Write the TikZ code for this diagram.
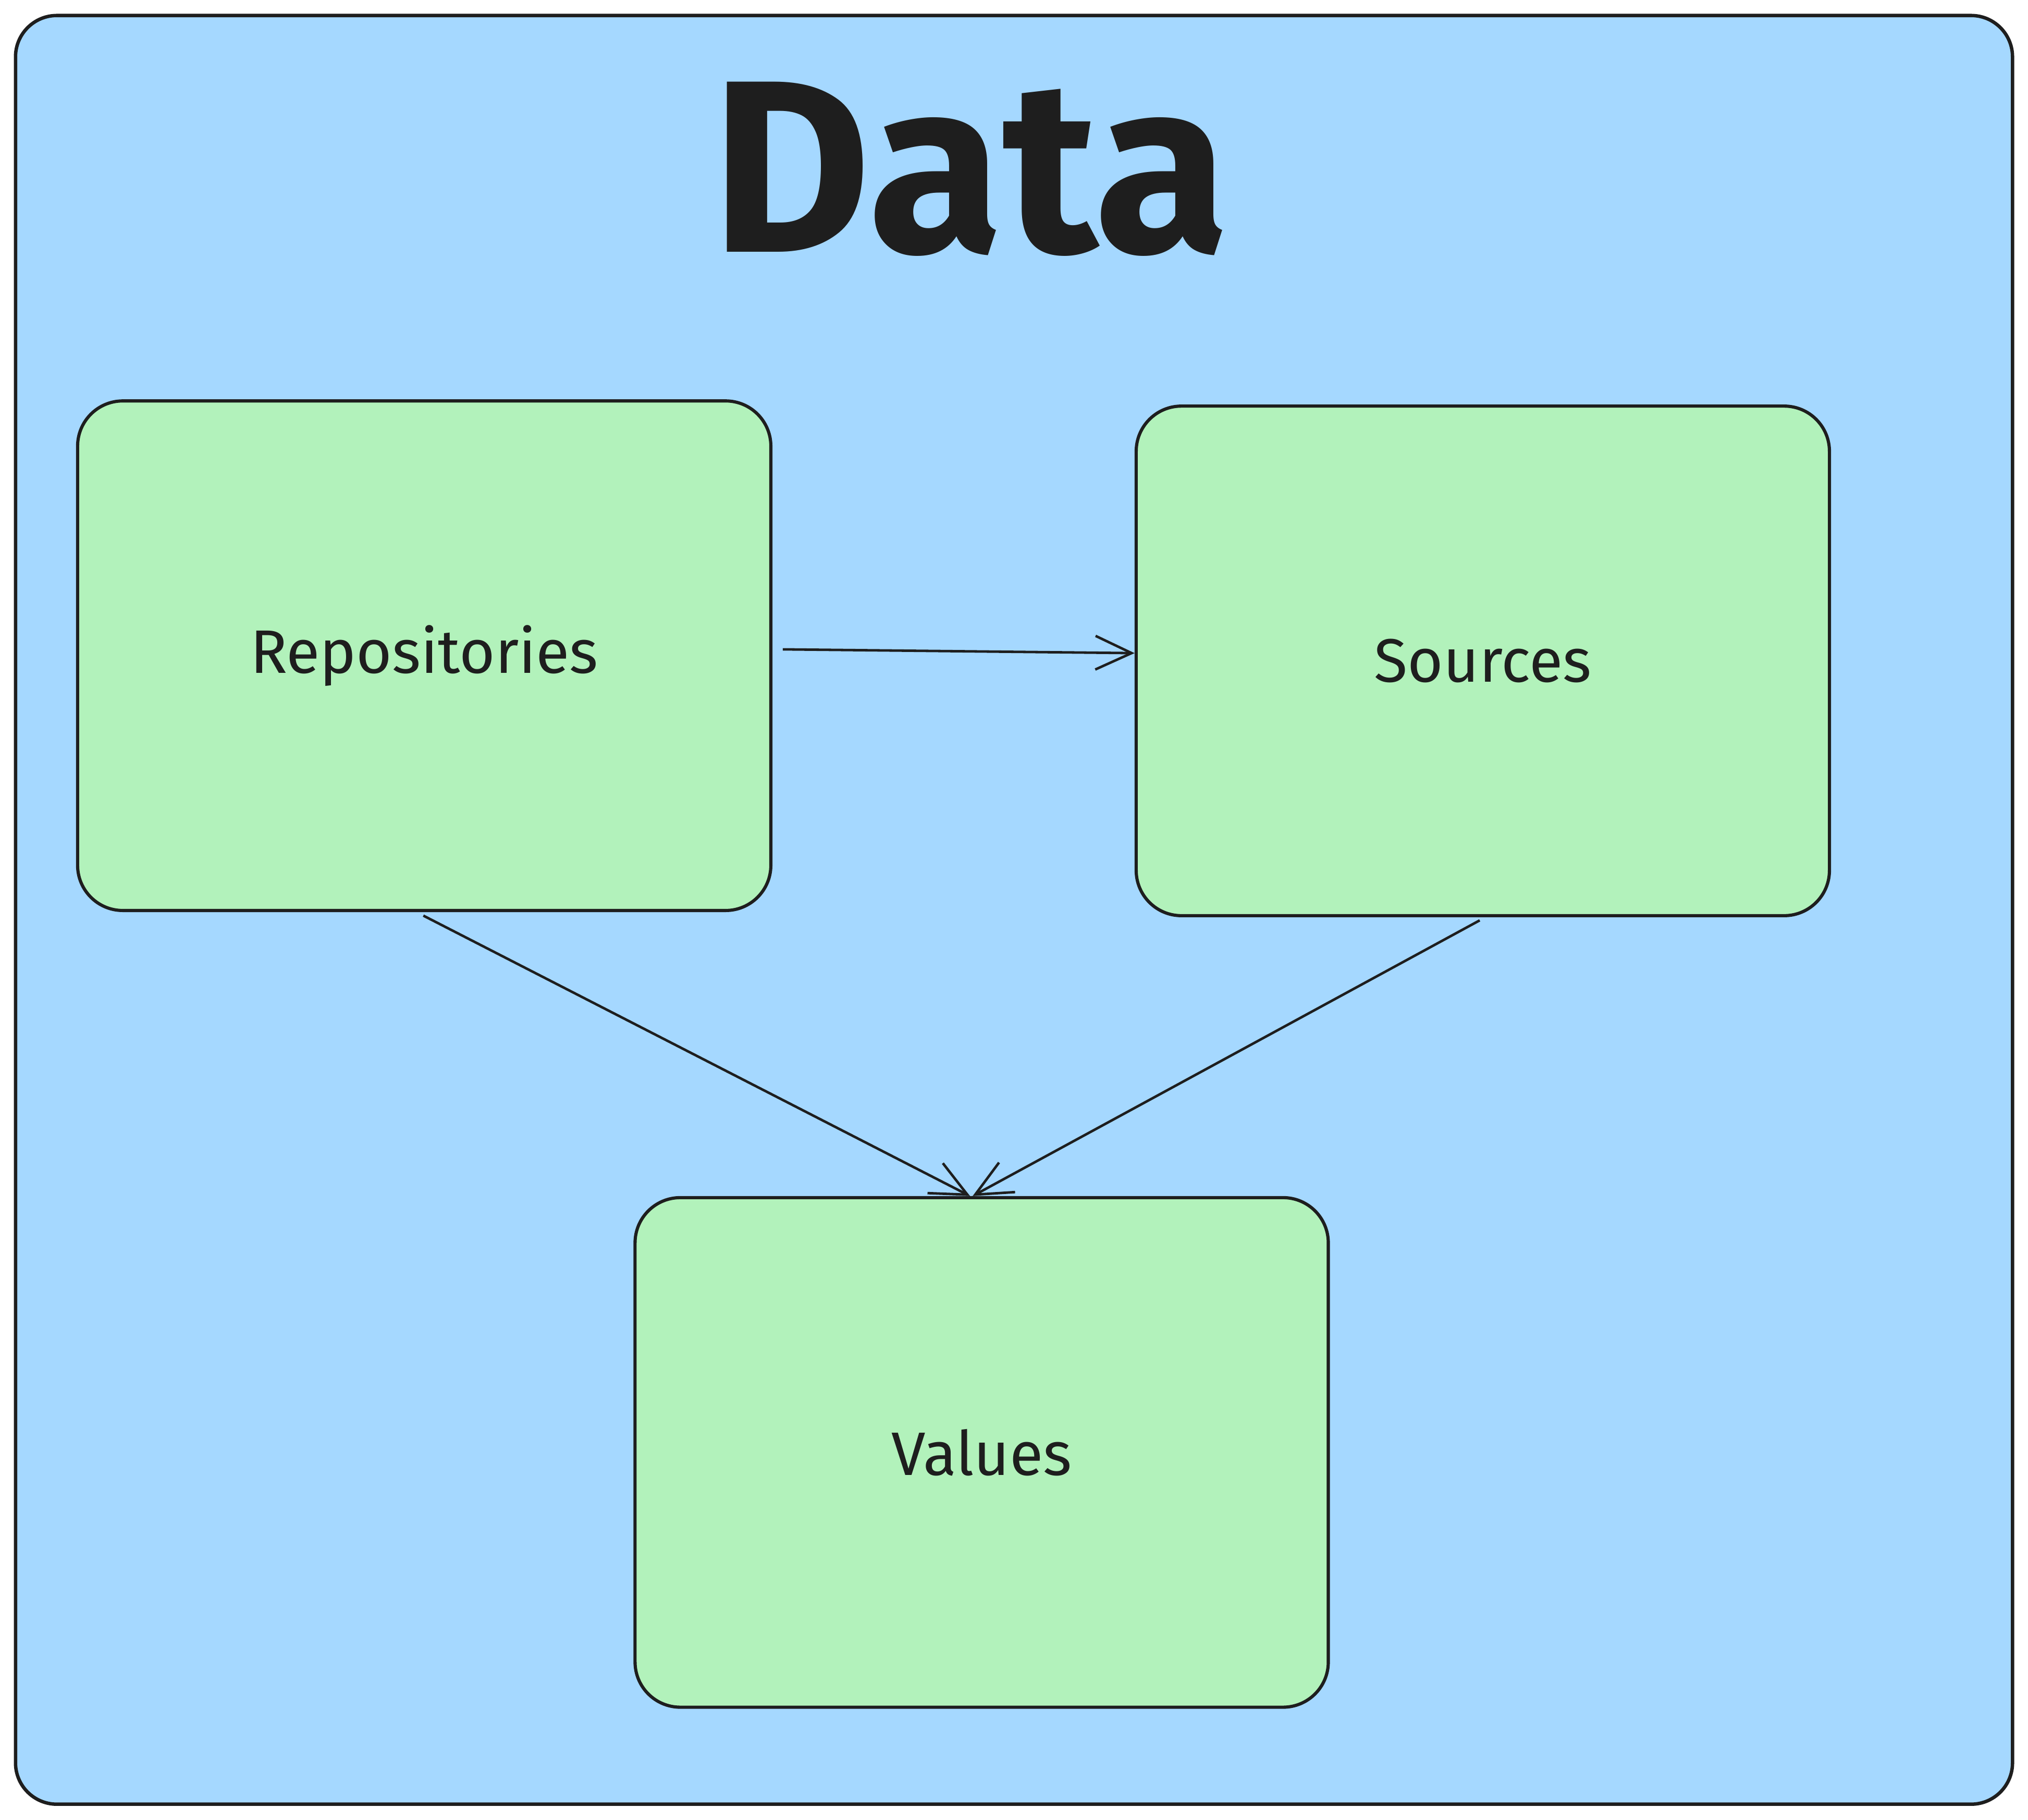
\documentclass[tikz,border=0pt]{standalone}
\usepackage{fontspec}
\setmainfont{Fira Sans}
\usepackage{xcolor}
\usepackage{tikz}
\usetikzlibrary{positioning,arrows.meta}
\definecolor{ink}{HTML}{1e1e1e}
\definecolor{skyfill}{HTML}{a5d8ff}
\definecolor{mintfill}{HTML}{b2f2bb}

\begin{document}
\begin{tikzpicture}[
  frame/.style={rectangle, rounded corners=0.32cm, draw=ink, fill=skyfill,
    line width=0.75pt, minimum width=15.44cm, minimum height=13.83cm},
  block/.style={rectangle, rounded corners=0.35cm, draw=ink, fill=mintfill,
    minimum width=5.36cm, minimum height=3.94cm, align=center,
    font=\fontsize{13.5}{15}\selectfont, text=ink, line width=0.7pt},
  arrow/.style={-{Straight Barb[length=2.8mm, width=2.6mm]}, line width=0.55pt, color=ink},
  title/.style={font=\fontsize{54}{60}\selectfont\bfseries, text=ink}
]

% Canvas
\useasboundingbox (0,0) rectangle (15.68,-14.07);

% Container
\node[frame] (data) at (7.84,-7.035) {};
\node[title, anchor=base] (head) at (7.50,-1.95) {Data};

% Row 1
\node[block] (repos) at (3.28,-5.07) {Repositories};
\node[block, right=2.8cm of repos, yshift=-0.04cm] (sources) {Sources};

% Row 2
\node[block] (values) at (7.59,-11.23) {Values};

% Arrows
\draw[arrow, shorten <=0.08cm] ([yshift=0.05cm]repos.east) -- ([yshift=0.06cm]sources.west);
\draw[arrow, shorten <=0.06cm] ([xshift=-0.06cm]repos.south) -- ([xshift=-0.09cm]values.north);
\draw[arrow, shorten <=0.05cm] ([xshift=0.02cm]sources.south) -- ([xshift=-0.07cm]values.north);

\end{tikzpicture}
\end{document}
